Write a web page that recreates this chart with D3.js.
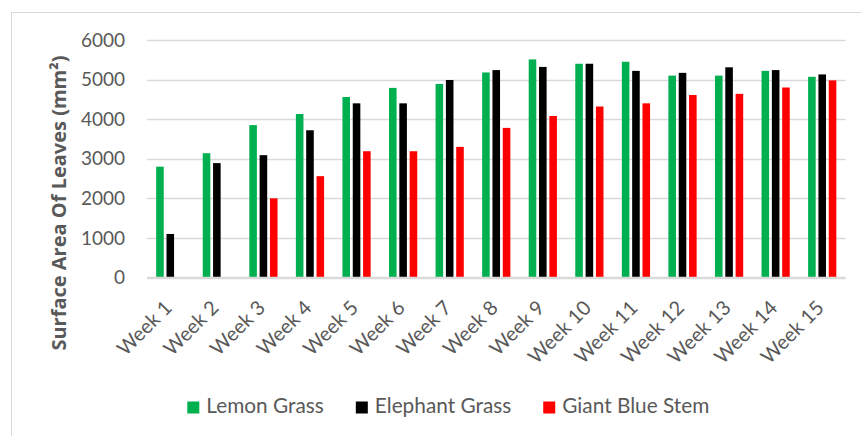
<!DOCTYPE html>
<html>
<head>
<meta charset="utf-8">
<script src="https://cdn.jsdelivr.net/npm/d3@7"></script>
<style>
  html, body { margin: 0; padding: 0; background: #fff; }
  svg { display: block; }
  text { font-family: Lato, "Open Sans", sans-serif; fill: #595959; }
</style>
</head>
<body>
<svg id="chart" width="861" height="436"></svg>
<script>
// Leaf surface area per week for three grass species
const weeks = ["Week 1","Week 2","Week 3","Week 4","Week 5","Week 6","Week 7","Week 8",
               "Week 9","Week 10","Week 11","Week 12","Week 13","Week 14","Week 15"];
const seriesNames = ["Lemon Grass", "Elephant Grass", "Giant Blue Stem"];
const lemonGrass     = [2800, 3140, 3850, 4130, 4560, 4790, 4890, 5180, 5510, 5400, 5450, 5100, 5100, 5220, 5070];
const elephantGrass  = [1100, 2890, 3090, 3720, 4400, 4400, 4990, 5240, 5320, 5400, 5220, 5170, 5310, 5240, 5130];
const giantBlueStem  = [0,    0,    2000, 2560, 3190, 3190, 3300, 3780, 4080, 4320, 4400, 4610, 4640, 4800, 4980];
const yTicks = [0, 1000, 2000, 3000, 4000, 5000, 6000];
const colors = ["#00B050", "#000000", "#FF0000"];

const seriesValues = [lemonGrass, elephantGrass, giantBlueStem];

const svg = d3.select("#chart");

// chart area frame
svg.append("rect")
  .attr("x", 11.5).attr("y", 12.5)
  .attr("width", 900).attr("height", 500)
  .attr("fill", "none").attr("stroke", "#D9D9D9").attr("stroke-width", 1);

const plot = { left: 147, right: 845.5, top: 40, bottom: 277.5 };

const x = d3.scaleBand().domain(weeks).range([plot.left, plot.right]).padding(0);
const bw = x.bandwidth();
const xSub = d3.scaleBand().domain(seriesNames)
  .range([bw * 0.197, bw * 0.803]).paddingInner(0.266).paddingOuter(0);
const y = d3.scaleLinear().domain([0, 6000]).range([plot.bottom, plot.top]);

// horizontal gridlines
svg.append("g")
  .selectAll("line")
  .data(yTicks)
  .join("line")
  .attr("x1", plot.left).attr("x2", plot.right)
  .attr("y1", d => Math.round(y(d)) + 0.5).attr("y2", d => Math.round(y(d)) + 0.5)
  .attr("stroke", "#D9D9D9").attr("stroke-width", 1.3);

// y axis labels
const yAxis = d3.axisLeft(y).tickValues(yTicks).tickSize(0).tickPadding(0).tickFormat(d3.format("d"));
const yg = svg.append("g").attr("transform", `translate(125,0)`).call(yAxis);
yg.select(".domain").remove();
yg.selectAll("text")
  .attr("font-size", 19)
  .style("font-family", "Lato, 'Open Sans', sans-serif")
  .attr("fill", "#595959");

// y axis title
svg.append("text")
  .attr("transform", "translate(58.5,203) rotate(-90)")
  .attr("text-anchor", "middle")
  .attr("dy", "0.35em")
  .attr("font-size", 20)
  .attr("font-weight", "bold")
  .style("font-family", "'Open Sans', sans-serif")
  .text("Surface Area Of Leaves (mm²)");

// bars
const groups = svg.append("g")
  .selectAll("g")
  .data(weeks.map((w, i) => ({ week: w, vals: seriesNames.map((s, k) => ({ series: s, k, value: seriesValues[k][i] })) })))
  .join("g")
  .attr("transform", d => `translate(${x(d.week)},0)`);

groups.selectAll("rect")
  .data(d => d.vals.filter(v => v.value > 0))
  .join("rect")
  .attr("x", d => xSub(d.series))
  .attr("width", xSub.bandwidth())
  .attr("y", d => y(d.value))
  .attr("height", d => y(0) - y(d.value))
  .attr("fill", d => colors[d.k]);

// baseline
svg.append("line")
  .attr("x1", plot.left).attr("x2", plot.right)
  .attr("y1", plot.bottom).attr("y2", plot.bottom)
  .attr("stroke", "#D9D9D9").attr("stroke-width", 1.5);

// x axis labels, rotated
svg.append("g")
  .selectAll("text")
  .data(weeks)
  .join("text")
  .attr("transform", d => `translate(${x(d) + bw / 2 + 3},309) rotate(-45)`)
  .attr("text-anchor", "end")
  .attr("font-size", 20)
  .text(d => d);

// legend
const legend = svg.append("g");
let lx = 187.3;
seriesNames.forEach((name, k) => {
  legend.append("rect")
    .attr("x", lx).attr("y", 401.5)
    .attr("width", 12).attr("height", 12)
    .attr("fill", colors[k]);
  const t = legend.append("text")
    .attr("x", lx + 19).attr("y", 413.3)
    .attr("font-size", 20.8)
    .text(name);
  lx += 19 + t.node().getComputedTextLength() + 32;
});
</script>
</body>
</html>
